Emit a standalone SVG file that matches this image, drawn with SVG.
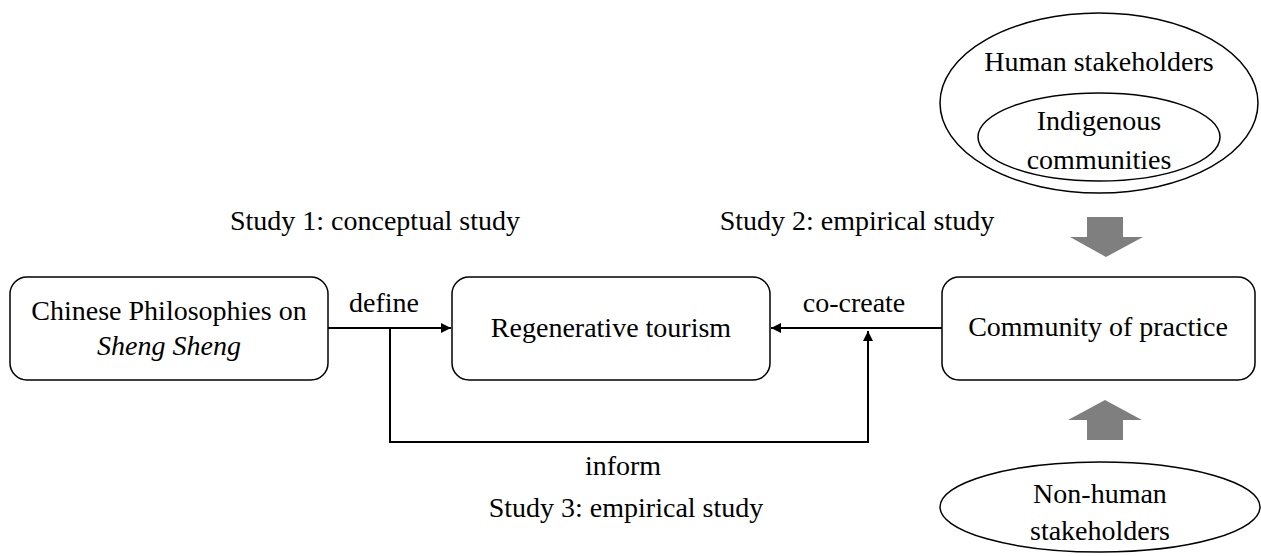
<svg xmlns="http://www.w3.org/2000/svg" width="1261" height="556" viewBox="0 0 1261 556">
  <style>
    text { font-family: "Liberation Serif", "Times New Roman", serif; font-size: 28px; fill: #000; text-anchor: middle; }
    .box { fill: #fff; stroke: #000; stroke-width: 1.5; }
    .oval { fill: none; stroke: #000; stroke-width: 1.5; }
    .link { fill: none; stroke: #000; stroke-width: 2; }
    .block { fill: #7f7f7f; stroke: none; }
  </style>
  <defs>
    <!-- small filled triangle used on all thin connectors -->
    <marker id="tip" viewBox="0 0 10 10" refX="10" refY="5" markerWidth="5" markerHeight="5" orient="auto" markerUnits="strokeWidth">
      <path d="M0,0 L10,5 L0,10 z" fill="#000"/>
    </marker>
  </defs>

  <g id="connectors">
    <line class="link" x1="328" y1="328" x2="451" y2="328" marker-end="url(#tip)"/>
    <line class="link" x1="942" y1="328" x2="771" y2="328" marker-end="url(#tip)"/>
    <polyline class="link" points="390,328 390,442 868,442 868,331" marker-end="url(#tip)"/>
  </g>

  <g id="labels">
    <text x="375" y="230">Study 1: conceptual study</text>
    <text x="857" y="230">Study 2: empirical study</text>
    <text x="384" y="312">define</text>
    <text x="854" y="312">co-create</text>
    <text x="623" y="475">inform</text>
    <text x="626" y="517">Study 3: empirical study</text>
  </g>

  <g id="node-philosophies">
    <rect class="box" x="10" y="277" width="318" height="103" rx="17"/>
    <text x="169" y="320">Chinese Philosophies on</text>
    <text x="169" y="355" font-style="italic">Sheng Sheng</text>
  </g>

  <g id="node-regenerative">
    <rect class="box" x="452" y="277" width="318" height="103" rx="17"/>
    <text x="611" y="337">Regenerative tourism</text>
  </g>

  <g id="node-community">
    <rect class="box" x="942" y="277" width="313" height="103" rx="17"/>
    <text x="1098" y="336">Community of practice</text>
  </g>

  <g id="node-human">
    <ellipse class="oval" cx="1099" cy="103" rx="159" ry="90"/>
    <text x="1099" y="71">Human stakeholders</text>
  </g>

  <g id="node-indigenous">
    <ellipse class="oval" cx="1099" cy="137" rx="121" ry="44"/>
    <text x="1099" y="130">Indigenous</text>
    <text x="1099" y="169">communities</text>
  </g>

  <g id="node-nonhuman">
    <ellipse class="oval" cx="1100" cy="507" rx="160" ry="45"/>
    <text x="1100" y="503">Non-human</text>
    <text x="1100" y="540">stakeholders</text>
  </g>

  <g id="flow-arrows">
    <polygon class="block" points="1087,217 1123,217 1123,237 1143,237 1106,257 1070,237 1087,237"/>
    <polygon class="block" points="1105,400 1142,420 1123,420 1123,440 1087,440 1087,420 1068,420"/>
  </g>
</svg>
